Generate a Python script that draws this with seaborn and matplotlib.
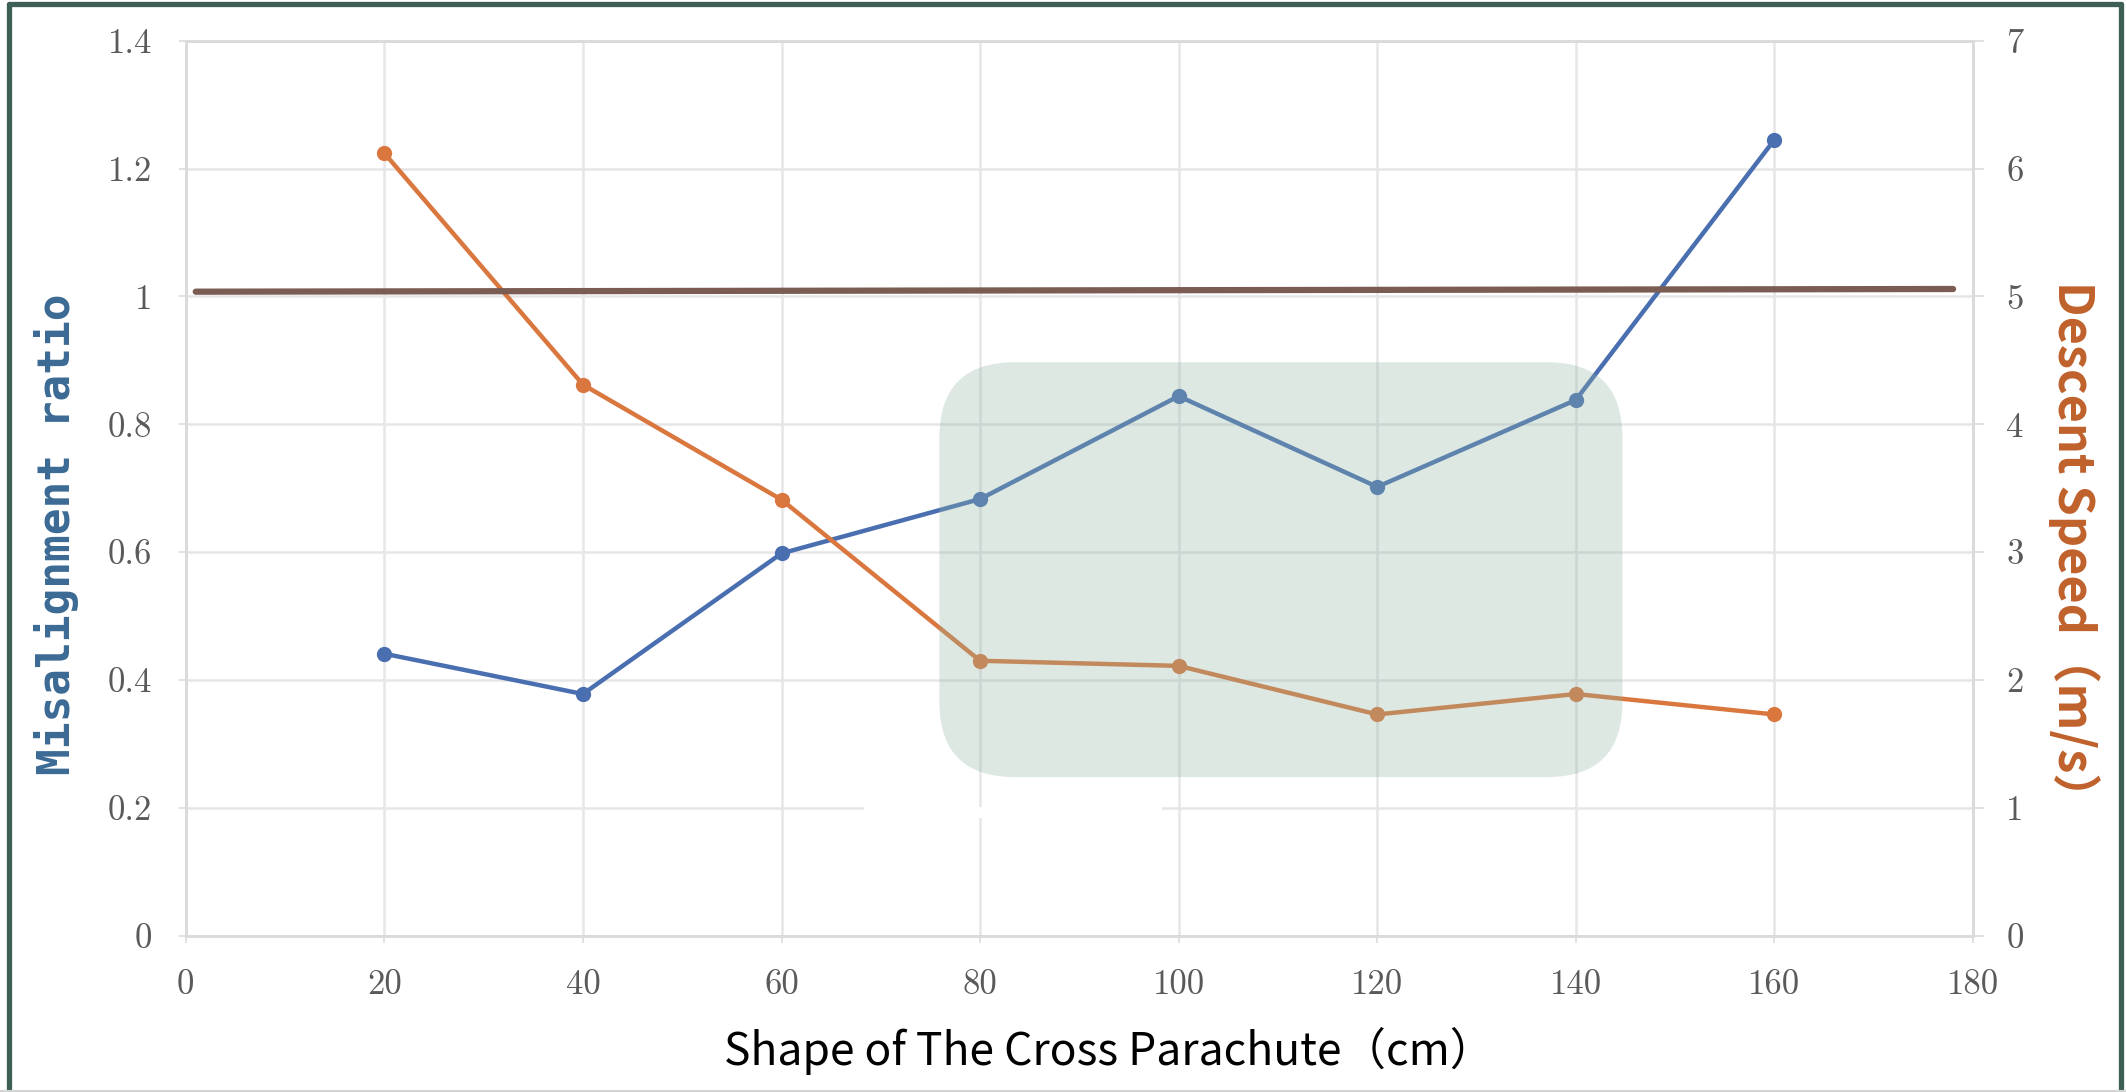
import numpy as np
import pandas as pd
import matplotlib
matplotlib.use('Agg')
import matplotlib.pyplot as plt
import seaborn as sns
from matplotlib.patches import FancyBboxPatch, Rectangle
from matplotlib.lines import Line2D

# cross parachute size (cm)
sizes = [20, 40, 60, 80, 100, 120, 140, 160]
misalignment = [0.441, 0.378, 0.598, 0.683, 0.844, 0.702, 0.838, 1.245]
descent_speed = [6.12, 4.31, 3.41, 2.15, 2.11, 1.73, 1.89, 1.73]

# threshold line (ratio = 1), drawn on the speed axis where 1 ratio = 5 m/s
ref_x = [1, 178]
ref_speed = [5.037, 5.058]

x_ticks = [0, 20, 40, 60, 80, 100, 120, 140, 160, 180]
left_ticks = [0, 0.2, 0.4, 0.6, 0.8, 1.0, 1.2, 1.4]
left_labels = ['0', '0.2', '0.4', '0.6', '0.8', '1', '1.2', '1.4']
right_ticks = [0, 1, 2, 3, 4, 5, 6, 7]

blue = '#4a6fb0'
orange = '#d9773e'
brown = '#7a5c52'
grid_c = '#e6e6e6'
tick_c = '#5a5a5a'

df = pd.DataFrame({'size': sizes, 'ratio': misalignment, 'speed': descent_speed})

sns.set_theme(style='white')

fig = plt.figure(figsize=(21.26, 10.92), dpi=100)
ax = fig.add_axes([0.0874, 0.1432, 0.8406, 0.8195])
ax2 = ax.twinx()

sns.lineplot(data=df, x='size', y='ratio', ax=ax, color=blue, lw=3.2,
             marker='o', markersize=11, markeredgewidth=0, zorder=3)
sns.lineplot(data=df, x='size', y='speed', ax=ax2, color=orange, lw=3.2,
             marker='o', markersize=11, markeredgewidth=0, zorder=3)
sns.lineplot(x=ref_x, y=ref_speed, ax=ax2, color=brown, lw=4.5,
             solid_capstyle='round', zorder=4)

ax.set_xlim(0, 180)
ax.set_ylim(0, 1.4)
ax2.set_ylim(0, 7)

ax.set_xticks(x_ticks)
ax.set_yticks(left_ticks)
ax.set_yticklabels(left_labels)
ax2.set_yticks(right_ticks)

ax.grid(True, color=grid_c, lw=1.8)
ax.set_axisbelow(True)
for a in (ax, ax2):
    for s in a.spines.values():
        s.set_color('#dadada')
        s.set_linewidth(1.8)

ax.tick_params(axis='x', bottom=True, length=5, color='#dddddd', pad=19,
               labelsize=25, labelcolor=tick_c)
ax.tick_params(axis='y', left=True, length=5, color='#dddddd', pad=19,
               labelsize=25, labelcolor=tick_c)
ax2.tick_params(axis='y', right=True, length=8, color='#dddddd', pad=16,
                labelsize=25, labelcolor=tick_c)
for lab in ax.get_xticklabels() + ax.get_yticklabels() + ax2.get_yticklabels():
    lab.set_fontfamily('cmr10')

ax.set_xlabel('')
ax.set_ylabel('')
ax2.set_ylabel('')

# highlighted region (rounded box), defined in ratio-axis units
ax_w = fig.get_figwidth() * fig.dpi * 0.8406
ax_h = fig.get_figheight() * fig.dpi * 0.8195
aspect = (1.4 / ax_h) / (180 / ax_w)
box = FancyBboxPatch((75.9, 0.248), 68.8, 0.649,
                     boxstyle='round,pad=0,rounding_size=7.6',
                     mutation_aspect=aspect, transform=ax.transData,
                     facecolor='#8fb3a5', alpha=0.3, edgecolor='none', zorder=5)
ax2.add_patch(box)
gap = Rectangle((68.3, 0.184), 30, 0.018, transform=ax.transData,
                facecolor='white', edgecolor='none', zorder=6)
ax2.add_patch(gap)

fig.text(0.0268, 0.511, 'Misalignment ratio', rotation=90, ha='center', va='center',
         fontsize=32, fontweight='bold', color='#3b6a94', family='DejaVu Sans Mono')
fig.text(0.9755, 0.495, 'Descent Speed（m/s）', rotation=270, ha='center', va='center',
         fontsize=35, fontweight='bold', color='#c0612b',
         family=['Noto Sans CJK JP', 'DejaVu Sans'])
fig.text(0.5216, 0.0247, 'Shape of The Cross Parachute（cm）', ha='center', va='baseline',
         fontsize=32, color='black', family=['Noto Sans CJK JP', 'DejaVu Sans'])

# outer frame
frame = '#3e5f55'
fig.add_artist(Line2D([0.0042, 0.0042], [0, 0.9963], transform=fig.transFigure,
                      color=frame, lw=3.8))
fig.add_artist(Line2D([0.0042, 0.9976], [0.9963, 0.9963], transform=fig.transFigure,
                      color=frame, lw=3.8))
fig.add_artist(Line2D([0.9976, 0.9976], [0, 0.9963], transform=fig.transFigure,
                      color=frame, lw=3.8))
fig.add_artist(Line2D([0, 1], [0.0012, 0.0012], transform=fig.transFigure,
                      color='#d4d4d4', lw=1.5))

fig.savefig('out.png', dpi=100)
